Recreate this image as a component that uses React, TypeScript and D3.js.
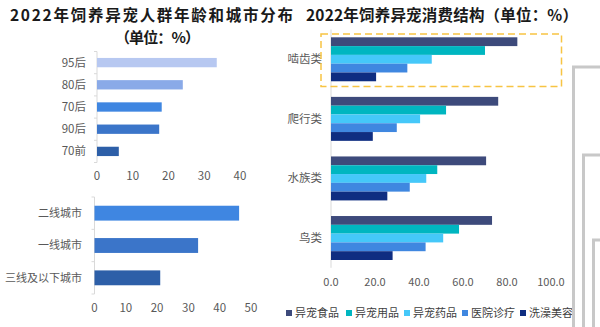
import React from "react";
import * as d3 from "d3";

const ageCats = ["95后", "80后", "70后", "90后", "70前"];
const ageVals = [33.5, 24.0, 18.1, 17.4, 6.1];
const ageColors = ["#b7c8f1", "#8aaae8", "#3f86e1", "#3b75c9", "#2d5fa8"];
const ageTicks = [0, 10, 20, 30, 40];

const cityCats = ["二线城市", "一线城市", "三线及以下城市"];
const cityVals = [46.2, 33.1, 21.0];
const cityColors = ["#3f86e1", "#3b75c9", "#2d5fa8"];
const cityTicks = [0, 10, 20, 30, 40, 50];

const petCats = ["啮齿类", "爬行类", "水族类", "鸟类"];
const seriesNames = ["异宠食品", "异宠用品", "异宠药品", "医院诊疗", "洗澡美容"];
const seriesColors = ["#3d4a7b", "#00b6c0", "#45c8f9", "#3f87e0", "#0f2d81"];
const food = [84.7, 76.0, 70.5, 73.2];
const supplies = [70.0, 52.3, 48.3, 58.2];
const medicine = [45.8, 40.5, 43.3, 51.0];
const clinic = [34.7, 29.9, 35.8, 43.0];
const bath = [20.5, 19.0, 25.6, 28.0];
const seriesVals = [food, supplies, medicine, clinic, bath];
const petTicks = [0, 20, 40, 60, 80, 100];

const FONT = "'Noto Sans CJK SC', 'Noto Sans', sans-serif";
const LABEL = "#595959";
const AXIS = "#d9d9d9";

export default function App() {
  // left top
  const xAge = d3.scaleLinear().domain([0, 40]).range([97, 240]);
  const yAge = d3.scaleBand().domain(ageCats).range([51.5, 162.5]).paddingInner(0.58).paddingOuter(0.29);
  // left bottom
  const xCity = d3.scaleLinear().domain([0, 50]).range([94.5, 251]);
  const yCity = d3.scaleBand().domain(cityCats).range([197, 294]).paddingInner(0.54).paddingOuter(0.27);
  // right
  const xPet = d3.scaleLinear().domain([0, 100]).range([331, 551]);
  const yPet = d3.scaleBand().domain(petCats).range([29.5, 267.8]).paddingInner(0.262).paddingOuter(0.131);
  const ySer = d3.scaleBand().domain(seriesNames).range([0, yPet.bandwidth()]).padding(0);

  const ageBounds = d3.range(ageCats.length + 1).map((i) => 51.5 + i * yAge.step());
  const cityBounds = d3.range(cityCats.length + 1).map((i) => 197 + i * yCity.step());

  const legendX = [289, 349, 407, 465, 523];

  return (
    <svg width={600} height={327} style={{ position: "absolute", left: 0, top: 0, fontFamily: FONT }}>
      <rect width={600} height={327} fill="#ffffff" />
      {/* titles */}
      <text x={10} y={21} fontSize={15.5} fontWeight="bold" fill="#1a1a1a" textLength={283} lengthAdjust="spacing">
        2022年饲养异宠人群年龄和城市分布
      </text>
      <text x={115} y={42.5} fontSize={15} fontWeight="bold" fill="#1a1a1a" textLength={85} lengthAdjust="spacing">
        （单位：%）
      </text>
      <text x={306} y={21} fontSize={15.5} fontWeight="bold" fill="#1a1a1a" textLength={272} lengthAdjust="spacing">
        2022年饲养异宠消费结构（单位：%）
      </text>

      {/* left top chart */}
      <line x1={xAge(0)} x2={xAge(0)} y1={51.5} y2={162.5} stroke={AXIS} />
      {ageBounds.map((b, i) => (
        <line key={i} x1={xAge(0) - 3} x2={xAge(0)} y1={b} y2={b} stroke={AXIS} />
      ))}
      {ageCats.map((c, i) => (
        <g key={c}>
          <rect x={xAge(0)} y={yAge(c)!} width={xAge(ageVals[i]) - xAge(0)} height={yAge.bandwidth()} fill={ageColors[i]} />
          <text x={86} y={yAge(c)! + yAge.bandwidth() / 2} dy="0.35em" textAnchor="end" fontSize={11.5} fill={LABEL}>
            {c}
          </text>
        </g>
      ))}
      {ageTicks.map((t) => (
        <text key={t} x={xAge(t)} y={180} textAnchor="middle" fontSize={11.5} fill={LABEL}>
          {t}
        </text>
      ))}

      {/* left bottom chart */}
      <line x1={xCity(0)} x2={xCity(0)} y1={197} y2={294} stroke={AXIS} />
      {cityBounds.map((b, i) => (
        <line key={i} x1={xCity(0) - 3} x2={xCity(0)} y1={b} y2={b} stroke={AXIS} />
      ))}
      {cityCats.map((c, i) => (
        <g key={c}>
          <rect x={xCity(0)} y={yCity(c)!} width={xCity(cityVals[i]) - xCity(0)} height={yCity.bandwidth()} fill={cityColors[i]} />
          <text x={82} y={yCity(c)! + yCity.bandwidth() / 2} dy="0.35em" textAnchor="end" fontSize={11} fill={LABEL}>
            {c}
          </text>
        </g>
      ))}
      {cityTicks.map((t) => (
        <text key={t} x={xCity(t)} y={312} textAnchor="middle" fontSize={11.5} fill={LABEL}>
          {t}
        </text>
      ))}

      {/* right chart */}
      <line x1={xPet(0)} x2={xPet(0)} y1={29.5} y2={267.8} stroke={AXIS} />
      {petCats.map((c, ci) => (
        <g key={c}>
          {seriesNames.map((s, si) => (
            <rect
              key={s}
              x={xPet(0)}
              y={yPet(c)! + ySer(s)!}
              width={xPet(seriesVals[si][ci]) - xPet(0)}
              height={ySer.bandwidth()}
              fill={seriesColors[si]}
            />
          ))}
          <text x={322} y={yPet(c)! + yPet.bandwidth() / 2} dy="0.35em" textAnchor="end" fontSize={11.5} fill={LABEL}>
            {c}
          </text>
        </g>
      ))}
      {petTicks.map((t) => (
        <text key={t} x={xPet(t)} y={285.5} textAnchor="middle" fontSize={11} fill={LABEL}>
          {t.toFixed(1)}
        </text>
      ))}
      {/* highlight box */}
      <rect x={321} y={34} width={240.5} height={52.5} fill="none" stroke="#f7c443" strokeWidth={1.5} strokeDasharray="7,4" />

      {/* legend */}
      {seriesNames.map((s, i) => (
        <g key={s}>
          <rect x={legendX[i] - 3} y={310} width={6} height={6} fill={seriesColors[i]} />
          <text x={legendX[i] + 6} y={313} dy="0.35em" fontSize={11} fill="#404040">
            {s}
          </text>
        </g>
      ))}

      {/* decorative frame lines at right edge */}
      <path d="M573.5,327 V67 H600" fill="none" stroke="#c8c8c8" strokeWidth={3} />
      <path d="M583.5,327 V155 H600" fill="none" stroke="#c8c8c8" strokeWidth={3} />
      <path d="M593.5,327 V240 H600" fill="none" stroke="#c8c8c8" strokeWidth={3} />
    </svg>
  );
}
